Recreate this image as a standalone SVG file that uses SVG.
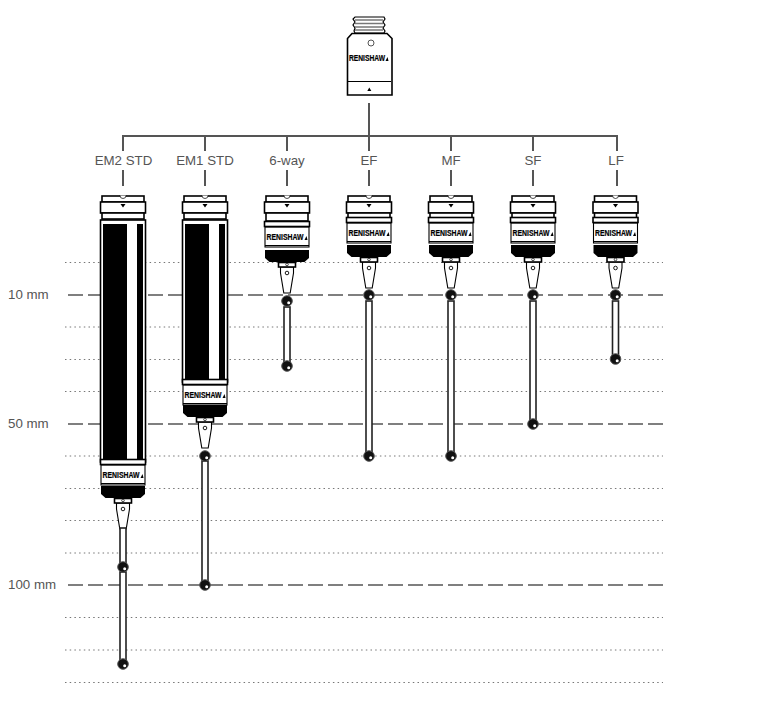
<svg xmlns="http://www.w3.org/2000/svg" width="760" height="706" viewBox="0 0 760 706">
<style>
.g{stroke:#555;stroke-width:2;fill:none}
.dot{stroke:#777;stroke-width:1;stroke-dasharray:1.5 3.2;fill:none}
.dash{stroke:#555;stroke-width:1.5;stroke-dasharray:15 5;fill:none}
.t{font-family:"Liberation Sans",Arial,sans-serif;font-size:13.3px;fill:#555}
.o{fill:#fff;stroke:#000;stroke-width:1.6}
.thin{fill:#fff;stroke:#000;stroke-width:1.1}
.k{fill:#000}
.logo{font-family:"Liberation Sans",Arial,sans-serif;font-size:8.5px;font-weight:700;fill:#000;text-anchor:middle;stroke:#000;stroke-width:.2}
.rod{fill:#fff;stroke:#222;stroke-width:1.6}
</style>
<defs>
<g id="ball">
<circle r="5.300" fill="#111" stroke="#555" stroke-width="1"/>
<circle cx="1.700" cy="1.700" r="1.500" fill="#fff"/>
</g>
<g id="cap">
<rect class="o" x="-21" y="196" width="42" height="6"/>
<path d="M-3 195.500a3 3 0 0 0 6 0" fill="#fff" stroke="#000" stroke-width=".7"/>
<rect class="o" x="-22.500" y="202" width="45" height="11"/>
<path class="k" d="M-2.500 204h5l-2.500 3.500z"/>
</g>
<g id="upper">
<rect class="thin" x="-22" y="-10" width="44" height="20"/>
<rect class="o" x="-22.500" y="-15.500" width="45" height="5"/>
<text class="logo" x="-2" y="3" textLength="37" lengthAdjust="spacingAndGlyphs">RENISHAW</text>
<path d="M17.500 3l2-4 1 4z" fill="#000"/>
<path d="M-22 8.500h44" stroke="#000" stroke-width="1.100"/>
</g>
<g id="foot">
<path class="k" d="M-22 0h44v8l-4.500 4h-35l-4.500-4z"/>
<path class="thin" d="M-6.500 17h13v6l-3.300 20h-6.400l-3.300-20z"/>
<circle cx="0" cy="23" r="1.800" fill="#fff" stroke="#000" stroke-width=".9"/>
<rect class="o" x="-8.500" y="12.500" width="17" height="4.500"/>
<circle cx="0" cy="14.500" r="1.300" fill="#fff" stroke="#000" stroke-width=".7"/>
</g>
<g id="short">
<use href="#cap"/>
<rect class="o" x="-21" y="213" width="42" height="6"/>
<use href="#upper" y="233"/>
<use href="#foot" y="245"/>
</g>
</defs>

<g id="grid">
<path class="dot" d="M65 262.500H663M65 327H663M65 359.500H663M65 391.500H663M65 456H663M65 488.500H663M65 520.500H663M65 553H663M65 617.500H663M65 650H663M65 682.500H663"/>
<path class="dash" d="M68 295H663M68 424H663M68 585H663"/>
<text class="t" x="8" y="299">10 mm</text>
<text class="t" x="8" y="428">50 mm</text>
<text class="t" x="8" y="589">100 mm</text>
</g>

<g id="connectors">
<path class="g" d="M369 103V136M123 151V136H617V151M205 136V151M287 136V151M369 136V151M451 136V151M533 136V151"/>
<path class="g" d="M123 170V186M205 170V186M287 170V186M369 170V186M451 170V186M533 170V186M617 170V186"/>
</g>

<g id="adapter">
<path d="M355 17h29l1 2-2 3 2 3-2 3 2 3-1 2h-29l-1-2 1-3-2-3 2-3-2-3z" fill="#fff" stroke="#000" stroke-width="1.200"/>
<path d="M355 20h28M355 23.500h28M355 27h28M355 30h28" stroke="#777" stroke-width="1.500"/>
<path class="o" d="M352 33.500h35l5 5V95h-44.500V38.500z"/>
<circle cx="371" cy="43" r="3" fill="#fff" stroke="#555" stroke-width="1"/>
<text class="logo" x="367" y="61" textLength="36" lengthAdjust="spacingAndGlyphs">RENISHAW</text>
<path d="M385.500 61l2-4 1 4z" fill="#000"/>
<path d="M348 81.500h43" stroke="#000" stroke-width="1"/>
<path class="k" d="M367.300 91l2-3.500 2 3.500z"/>
</g>

<g id="node-em2" transform="translate(123,0)">
<use href="#cap"/>
<rect class="o" x="-21" y="213" width="42" height="6"/>
<rect class="o" x="-22.500" y="220" width="45" height="242"/>
<rect class="k" x="-20" y="224" width="24" height="236"/>
<rect class="k" x="14" y="224" width="6" height="236"/>
<use href="#upper" y="475"/>
<use href="#foot" y="486"/>
<rect class="rod" x="-3" y="528" width="6" height="35"/>
<rect class="rod" x="-3" y="572" width="6" height="90"/>
<use href="#ball" y="567"/>
<use href="#ball" y="664"/>
</g>

<g id="node-em1" transform="translate(205,0)">
<use href="#cap"/>
<rect class="o" x="-21" y="213" width="42" height="6"/>
<rect class="o" x="-22.500" y="220" width="45" height="162"/>
<rect class="k" x="-20" y="224" width="24" height="155"/>
<rect class="k" x="14" y="224" width="6" height="155"/>
<use href="#upper" y="395"/>
<use href="#foot" y="405"/>
<rect class="rod" x="-3" y="461" width="6" height="122"/>
<use href="#ball" y="456"/>
<use href="#ball" y="585"/>
</g>

<g id="node-6way" transform="translate(287,0)">
<use href="#cap"/>
<rect class="o" x="-21" y="213" width="42" height="8"/>
<use href="#upper" y="237"/>
<use href="#foot" y="250"/>
<rect class="rod" x="-3" y="307" width="6" height="56"/>
<use href="#ball" y="301"/>
<use href="#ball" y="366"/>
</g>
<g id="node-ef" transform="translate(369,0)">
<use href="#short"/>
<rect class="rod" x="-3" y="301" width="6" height="152"/>
<use href="#ball" y="295"/>
<use href="#ball" y="456"/>
</g>
<g id="node-mf" transform="translate(451,0)">
<use href="#short"/>
<rect class="rod" x="-3" y="301" width="6" height="152"/>
<use href="#ball" y="295"/>
<use href="#ball" y="456"/>
</g>
<g id="node-sf" transform="translate(533,0)">
<use href="#short"/>
<rect class="rod" x="-3" y="301" width="6" height="120"/>
<use href="#ball" y="295"/>
<use href="#ball" y="424"/>
</g>
<g id="node-lf" transform="translate(615.500,0)">
<use href="#short"/>
<rect class="rod" x="-3" y="301" width="6" height="55"/>
<use href="#ball" y="295"/>
<use href="#ball" y="359"/>
</g>

<g id="labels">
<text class="t" text-anchor="middle" x="123.500" y="165">EM2 STD</text>
<text class="t" text-anchor="middle" x="205" y="165">EM1 STD</text>
<text class="t" text-anchor="middle" x="287" y="165">6-way</text>
<text class="t" text-anchor="middle" x="369" y="165">EF</text>
<text class="t" text-anchor="middle" x="451" y="165">MF</text>
<text class="t" text-anchor="middle" x="533" y="165">SF</text>
<text class="t" text-anchor="middle" x="616" y="165">LF</text>
</g>
</svg>
